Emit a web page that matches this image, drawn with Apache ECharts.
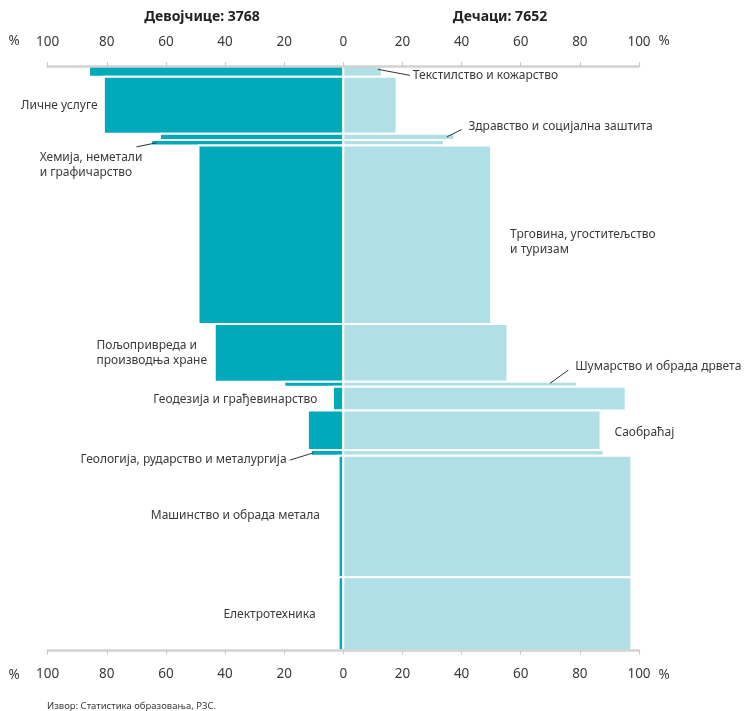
<!DOCTYPE html>
<html><head><meta charset="utf-8">
<script src="https://cdn.jsdelivr.net/npm/echarts@6/dist/echarts.min.js"></script>
<style>html,body{margin:0;padding:0;background:#fff}#c{width:744px;height:711px}</style>
</head><body><div id="c"></div>
<script>
// ---- data ----
const categories = ['Текстилство и кожарство','Личне услуге','Здравство и социјална заштита','Хемија, неметали и графичарство','Трговина, угоститељство и туризам','Пољопривреда и производња хране','Шумарство и обрада дрвета','Геодезија и грађевинарство','Саобраћај','Геологија, рударство и металургија','Машинство и обрада метала','Електротехника'];
const students = [209, 1115, 123, 108, 3484, 1131, 98, 460, 773, 115, 2370, 1432];
const girlsPct = [86, 81, 62, 65, 49, 43.5, 20, 3.5, 12, 11, 1.6, 1.6];
const boysPct  = [13, 18, 37.6, 34, 50, 55.5, 79, 95.5, 87, 88, 97.4, 97.4];
const tickLabels = ['100','80','60','40','20','0','20','40','60','80','100'];
const girlsTotal = 3768;
const boysTotal = 7652;
const source = 'Извор: Статистика образовања, РЗС.';

// ---- label annotations (text, side, placement in axis units / px offsets) ----
const annotations = [
  {cat:0, text:'Текстилство и кожарство', x:23.5, dy:4, align:'left', leader:[[11.7,-2],[22.5,4]]},
  {cat:1, text:'Личне услуге', x:-83.1, dy:0, align:'right'},
  {cat:2, text:'Здравство и социјална заштита', x:42.3, dy:-10.7, align:'left', leader:[[35,0],[40,-7.4]]},
  {cat:3, text:'Хемија, неметали\nи графичарство', x:-102.7, dy:22.5, align:'left', leader:[[-70,4],[-63.2,0]]},
  {cat:4, text:'Трговина, угоститељство\nи туризам', x:56.4, dy:7, align:'left'},
  {cat:5, text:'Пољопривреда и\nпроизводња хране', x:-83.5, dy:0, align:'left'},
  {cat:6, text:'Шумарство и обрада дрвета', x:78.4, dy:-17.6, align:'left', leader:[[69.9,-1],[76.1,-14.3]]},
  {cat:7, text:'Геодезија и грађевинарство', x:-8.8, dy:1.4, align:'right'},
  {cat:8, text:'Саобраћај', x:91.7, dy:2.3, align:'left'},
  {cat:9, text:'Геологија, рударство и металургија', x:-19.2, dy:6.5, align:'right', leader:[[-18.1,7.2],[-10.2,0]]},
  {cat:10, text:'Машинство и обрада метала', x:-7.9, dy:-1.3, align:'right'},
  {cat:11, text:'Електротехника', x:-9.4, dy:0.6, align:'right'}
];

const FONT = "'Noto Sans', 'Open Sans', sans-serif";
const TEAL = '#00aabb', LIGHT = '#b0dfe5', TXT = '#3a3a3a';

const cum = [];
let acc = 0;
students.forEach(v => { cum.push(acc); acc += v; });
const total = acc;

const barData = categories.map((c, i) => [cum[i], cum[i] + students[i], girlsPct[i], boysPct[i]]);

const axisCommon = {
  type: 'value', min: -100, max: 100, interval: 20, gridIndex: 0, z: 10,
  axisLine: {show: true, lineStyle: {color: '#d2d2d2', width: 2.5}},
  axisTick: {show: true, length: 4, lineStyle: {color: '#c8c8c8', width: 1}},
  splitLine: {show: false},
  axisLabel: {color: TXT, fontSize: 13.5, fontFamily: FONT, margin: 17,
    formatter: v => tickLabels[Math.round((v + 100) / 20)]}
};

const chart = echarts.init(document.getElementById('c'), null, {renderer: 'canvas'});
chart.setOption({
  animation: false,
  backgroundColor: '#fff',
  grid: {left: 47.7, right: 105, top: 66, bottom: 60.5, containLabel: false},
  xAxis: [
    Object.assign({}, axisCommon, {position: 'top'}),
    Object.assign({}, axisCommon, {position: 'bottom'})
  ],
  yAxis: {type: 'value', min: 0, max: total, inverse: true, show: false},
  graphic: [
    {type: 'text', x: 202, y: 17, style: {text: 'Девојчице: ' + girlsTotal, fill: '#222', font: "bold 14px " + FONT, align: 'center', verticalAlign: 'middle'}},
    {type: 'text', x: 500, y: 17, style: {text: 'Дечаци: ' + boysTotal, fill: '#222', font: "bold 14px " + FONT, align: 'center', verticalAlign: 'middle'}},
    {type: 'text', x: 14, y: 41, style: {text: '%', fill: TXT, font: "13.5px " + FONT, align: 'center', verticalAlign: 'middle'}},
    {type: 'text', x: 664, y: 41, style: {text: '%', fill: TXT, font: "13.5px " + FONT, align: 'center', verticalAlign: 'middle'}},
    {type: 'text', x: 14, y: 675, style: {text: '%', fill: TXT, font: "13.5px " + FONT, align: 'center', verticalAlign: 'middle'}},
    {type: 'text', x: 664, y: 675, style: {text: '%', fill: TXT, font: "13.5px " + FONT, align: 'center', verticalAlign: 'middle'}},
    {type: 'text', x: 47, y: 706, style: {text: source, fill: TXT, font: "9.5px " + FONT, align: 'left', verticalAlign: 'middle'}}
  ],
  series: [
    {
      type: 'custom', xAxisIndex: 0, yAxisIndex: 0, z: 2,
      data: barData,
      renderItem: (params, api) => {
        const s = api.value(0), e = api.value(1), g = api.value(2), b = api.value(3);
        const pL = api.coord([-g, s]), pC = api.coord([0, e]), pR = api.coord([b, e]);
        return {type: 'group', children: [
          {type: 'rect', shape: {x: pL[0], y: pL[1], width: pC[0] - pL[0], height: pC[1] - pL[1]},
            style: {fill: TEAL, stroke: '#fff', lineWidth: 2}},
          {type: 'rect', shape: {x: pC[0], y: pL[1], width: pR[0] - pC[0], height: pR[1] - pL[1]},
            style: {fill: LIGHT, stroke: '#fff', lineWidth: 2}}
        ]};
      }
    },
    {
      type: 'custom', xAxisIndex: 0, yAxisIndex: 0, z: 5,
      data: annotations.map((a, i) => [i]),
      renderItem: (params, api) => {
        const a = annotations[api.value(0)];
        const mid = cum[a.cat] + students[a.cat] / 2;
        const p = api.coord([a.x, mid]);
        const children = [{
          type: 'text', x: p[0], y: p[1] + a.dy,
          style: {text: a.text, fill: TXT, fontSize: 12, fontFamily: FONT, align: a.align, verticalAlign: 'middle', lineHeight: 15}
        }];
        if (a.leader) {
          const q1 = api.coord([a.leader[0][0], mid]), q2 = api.coord([a.leader[1][0], mid]);
          children.push({type: 'line', shape: {x1: q1[0], y1: q1[1] + a.leader[0][1], x2: q2[0], y2: q2[1] + a.leader[1][1]},
            style: {stroke: '#333', lineWidth: 1}});
        }
        return {type: 'group', children};
      }
    }
  ]
});
</script>
</body></html>
